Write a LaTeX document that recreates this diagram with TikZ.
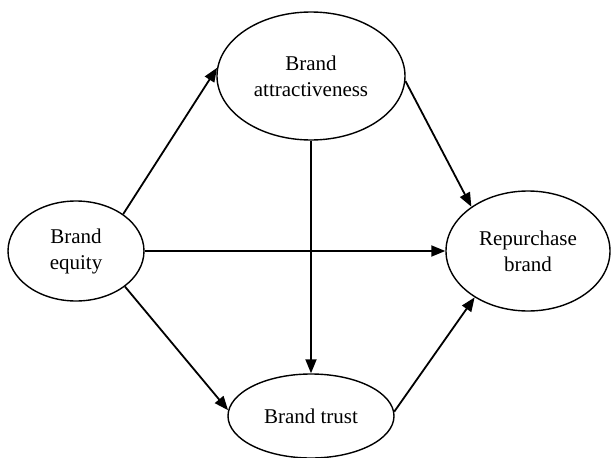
\documentclass[tikz,border=0pt]{standalone}
\usepackage{fontspec}
\setmainfont{Liberation Serif}
\usetikzlibrary{arrows.meta,shapes.geometric}
\begin{document}
\begin{tikzpicture}[x=1pt,y=-1pt,
  oval/.style={ellipse,draw,line width=1.4pt,inner sep=0pt,align=center,
    font=\fontsize{21}{26}\selectfont},
  link/.style={line width=1.8pt,-{Triangle[length=14pt,width=11pt]}}]
\useasboundingbox (0,0) rectangle (611,458);
\node[oval,minimum width=136pt,minimum height=100pt] (eq) at (76,251) {Brand\\equity};
\node[oval,minimum width=188pt,minimum height=128pt] (at) at (311,76) {Brand\\attractiveness};
\node[oval,minimum width=164pt,minimum height=120pt] (rp) at (528,251) {Repurchase\\brand};
\node[oval,minimum width=166pt,minimum height=84pt] (tr) at (311,416) {Brand trust};
\draw[link] (eq.38) -- (at.175);
\draw[link] (eq.-36) -- (tr.176);
\draw[link] (eq.east) -- (rp.west);
\draw[link] (at.south) -- (tr.north);
\draw[link] (at.-3) -- (rp.142);
\draw[link] (tr.3) -- (rp.221);
\end{tikzpicture}
\end{document}
